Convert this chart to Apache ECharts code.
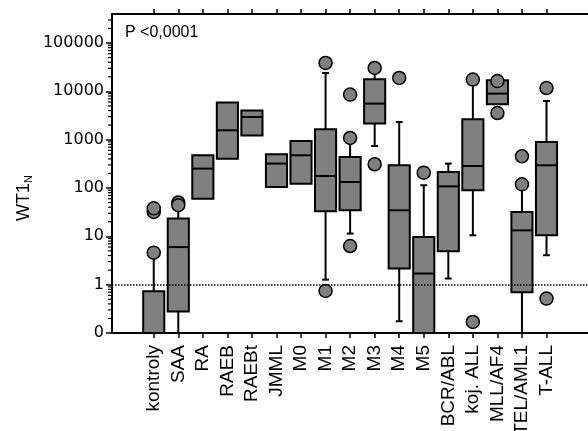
<!DOCTYPE html>
<html><head><meta charset="utf-8">
<script src="https://cdn.jsdelivr.net/npm/echarts@6/dist/echarts.min.js"></script>
<style>html,body{margin:0;padding:0;background:#fff}#c{width:588px;height:431px}</style>
</head><body><div id="c"></div>
<script>
// ---- data ----
const categories = ['kontroly','SAA','RA','RAEB','RAEBt','JMML','M0','M1','M2','M3','M4','M5','BCR/ABL','koj. ALL','MLL/AF4','TEL/AML1','T-ALL'];
const whiskerLow  = [null, 0.1,  null, null, null, null, null, 1.27, 11.4, 740,  0.175, null, 1.34, 10.5, null, 0.1,  4.06];
const q1          = [0.1,  0.28, 60,   405,  1213, 105,  123,  33,   34.6, 2150, 2.15,  0.1,  4.9,  89.8, 5400, 0.70, 10.5];
const median      = [null, 6.0,  252,  1563, 2945, 320,  475,  177,  133,  5570, 34.6,  1.7,  108,  285,  8970, 13.3, 295];
const q3          = [0.73, 23.3, 475,  5850, 4000, 498,  940,  1640, 438,  17700,295,   9.7,  214,  2640, 16900,31.9, 895];
const whiskerHigh = [4.3,  42,   null, null, null, null, null, 24000,900,  27000,2320,  114,  320,  15000,null, 100,  6310];
const outlierCategory = [0, 0, 0, 1, 1, 7, 7, 8, 8, 8, 9, 9, 10, 11, 13, 13, 14, 14, 15, 15, 16, 16];
const outlierValue    = [4.6, 32, 38, 50, 44, 38600, 0.74, 8570, 1084, 6.3, 30400, 310, 18900, 208, 17500, 0.169, 16300, 3560, 453, 119, 11700, 0.515];
const yTickValues = [0.1, 1, 10, 100, 1000, 10000, 100000];
const yTickLabels = ['0', '1', '10', '100', '1000', '10000', '100000'];
const pText = 'P <0,0001';

// ---- axis extents ----
const X_MIN = -1.7, X_MAX = 18;
const Y_MIN = 0.1, Y_MAX = Math.pow(10, 5.6);
const catIdx = categories.map((c, i) => i);

const minorValues = [];
for (let d = -1; d <= 5; d++) {
  for (let k = 2; k <= 9; k++) {
    const v = k * Math.pow(10, d);
    if (v < Y_MAX) minorValues.push(v);
  }
}

const boxData = categories.map((c, i) => {
  const lo = whiskerLow[i] == null ? q1[i] : whiskerLow[i];
  const hi = whiskerHigh[i] == null ? q3[i] : whiskerHigh[i];
  const md = median[i] == null ? q1[i] : median[i];
  return [i, lo, q1[i], md, q3[i], hi];
});
const outlierData = outlierCategory.map((c, k) => [c, outlierValue[k]]);

const STROKE = '#000';
const FILL = '#808080';

function renderBox(params, api) {
  const i = api.value(0), lo = api.value(1), b1 = api.value(2), md = api.value(3), b3 = api.value(4), hi = api.value(5);
  const xc = api.coord([i, b1])[0];
  const band = api.coord([i + 1, b1])[0] - xc;
  const bw = band * 0.86, cap = band * 0.14;
  const yLo = api.coord([i, lo])[1], y1 = api.coord([i, b1])[1], ym = api.coord([i, md])[1],
        y3 = api.coord([i, b3])[1], yHi = api.coord([i, hi])[1];
  const ls = { stroke: STROKE, lineWidth: 2 };
  const ch = [];
  if (hi > b3) {
    ch.push({ type: 'line', shape: { x1: xc, y1: y3, x2: xc, y2: yHi }, style: ls });
    ch.push({ type: 'line', shape: { x1: xc - cap, y1: yHi, x2: xc + cap, y2: yHi }, style: ls });
  }
  if (lo < b1) {
    ch.push({ type: 'line', shape: { x1: xc, y1: y1, x2: xc, y2: yLo }, style: ls });
    ch.push({ type: 'line', shape: { x1: xc - cap, y1: yLo, x2: xc + cap, y2: yLo }, style: ls });
  }
  ch.push({ type: 'rect', shape: { x: xc - bw / 2, y: y3, width: bw, height: y1 - y3 }, style: { fill: FILL, stroke: STROKE, lineWidth: 2 } });
  ch.push({ type: 'line', shape: { x1: xc - bw / 2, y1: ym, x2: xc + bw / 2, y2: ym }, style: ls });
  return { type: 'group', children: ch };
}

function renderMinor(params, api) {
  const p = api.coord([api.value(0), api.value(1)]);
  return { type: 'line', shape: { x1: p[0] - 4, y1: p[1], x2: p[0], y2: p[1] }, style: { stroke: STROKE, lineWidth: 1.2 } };
}

const chart = echarts.init(document.getElementById('c'), null, { renderer: 'canvas' });
const axisFontX = { fontFamily: 'Liberation Sans, Arial, sans-serif', fontSize: 19, color: '#000' };

chart.setOption({
  animation: false,
  backgroundColor: '#fff',
  title: {
    text: pText, left: 125, top: 25, padding: 0,
    textStyle: { fontFamily: 'Liberation Sans, Arial, sans-serif', fontSize: 16, fontWeight: 'normal', color: '#000' }
  },
  grid: { left: 112, right: -7.6, top: 14, bottom: 98, containLabel: false, outerBoundsMode: 'none' },
  xAxis: [{
    type: 'value', min: X_MIN, max: X_MAX, position: 'bottom',
    axisLine: { show: true, onZero: false, lineStyle: { color: STROKE, width: 2 } },
    axisTick: { show: true, length: 5, customValues: catIdx, lineStyle: { color: STROKE, width: 1.5 } },
    axisLabel: Object.assign({ customValues: catIdx, rotate: 90, margin: 12, hideOverlap: false,
      formatter: v => categories[Math.round(v)] }, axisFontX),
    splitLine: { show: false }
  }, {
    type: 'value', min: X_MIN, max: X_MAX, position: 'top',
    axisLine: { show: true, onZero: false, lineStyle: { color: STROKE, width: 2 } },
    axisTick: { show: true, length: 5, customValues: catIdx, lineStyle: { color: STROKE, width: 1.5 } },
    axisLabel: { show: false },
    splitLine: { show: false }
  }],
  yAxis: {
    type: 'log', logBase: 10, min: Y_MIN, max: Y_MAX, position: 'left',
    axisLine: { show: true, onZero: false, lineStyle: { color: STROKE, width: 2 } },
    axisTick: { show: true, length: 6, customValues: yTickValues, lineStyle: { color: STROKE, width: 1.5 } },
    axisLabel: {
      customValues: yTickValues, margin: 8, color: '#000', fontFamily: 'DejaVu Sans', fontSize: 16,
      formatter: v => {
        let best = 0;
        yTickValues.forEach((t, k) => { if (Math.abs(Math.log10(t) - Math.log10(v)) < Math.abs(Math.log10(yTickValues[best]) - Math.log10(v))) best = k; });
        return yTickLabels[best];
      }
    },
    splitLine: { show: false }
  },
  graphic: [{
    type: 'text', x: 24, y: 198, rotation: Math.PI / 2,
    style: {
      text: '{a|WT1}{b|N}', align: 'center', verticalAlign: 'middle',
      rich: {
        a: { fontFamily: 'Liberation Sans, Arial, sans-serif', fontSize: 18, lineHeight: 20, fill: '#000' },
        b: { fontFamily: 'Liberation Sans, Arial, sans-serif', fontSize: 11, lineHeight: 9, verticalAlign: 'bottom', fill: '#000' }
      }
    }
  }],
  series: [{
    type: 'line', data: [], z: 1, silent: true,
    markLine: {
      silent: true, symbol: 'none', label: { show: false },
      lineStyle: { type: [1.5, 1.5], color: STROKE, width: 1.5 },
      data: [{ yAxis: 1 }]
    }
  }, {
    type: 'custom', z: 2, renderItem: renderBox, data: boxData,
    encode: { x: 0, y: [1, 2, 3, 4, 5] }, clip: false, silent: true
  }, {
    type: 'scatter', z: 3, data: outlierData, symbol: 'circle', symbolSize: 13, silent: true,
    itemStyle: { color: FILL, borderColor: STROKE, borderWidth: 1.5, opacity: 1 }
  }, {
    type: 'custom', z: 3, renderItem: renderMinor, data: minorValues.map(v => [X_MIN, v]),
    encode: { x: 0, y: 1 }, clip: false, silent: true
  }]
});
</script>
</body></html>
